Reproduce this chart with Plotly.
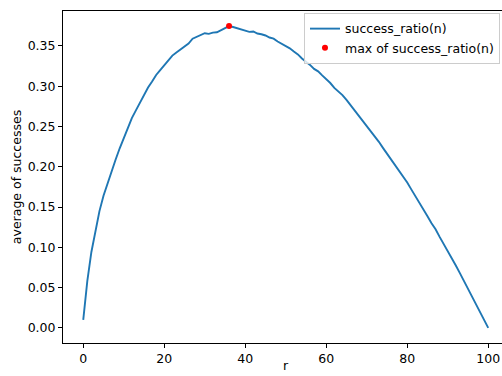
import numpy as np
import plotly.graph_objects as go

r_values = list(range(0, 101))
success_ratio = [
    0.0100, 0.0580, 0.0940, 0.1220, 0.1450, 0.1640, 0.1800, 0.1950, 0.2090, 0.2230,
    0.2360, 0.2490, 0.2605, 0.2700, 0.2800, 0.2895, 0.2985, 0.3060, 0.3140, 0.3200,
    0.3265, 0.3325, 0.3380, 0.3420, 0.3460, 0.3500, 0.3530, 0.3590, 0.3615, 0.3630,
    0.3658, 0.3650, 0.3665, 0.3670, 0.3695, 0.3712, 0.3747, 0.3735, 0.3720, 0.3700,
    0.3690, 0.3675, 0.3680, 0.3655, 0.3645, 0.3630, 0.3605, 0.3590, 0.3555, 0.3530,
    0.3500, 0.3470, 0.3430, 0.3395, 0.3345, 0.3310, 0.3265, 0.3215, 0.3185, 0.3135,
    0.3090, 0.3040, 0.2980, 0.2935, 0.2890, 0.2830, 0.2765, 0.2700, 0.2630, 0.2575,
    0.2505, 0.2445, 0.2385, 0.2310, 0.2235, 0.2165, 0.2095, 0.2025, 0.1950, 0.1880,
    0.1805, 0.1720, 0.1640, 0.1555, 0.1475, 0.1385, 0.1300, 0.1225, 0.1130, 0.1045,
    0.0955, 0.0870, 0.0775, 0.0680, 0.0585, 0.0490, 0.0395, 0.0300, 0.0200, 0.0100,
    0.0000,
]
x_ticks = [0, 20, 40, 60, 80, 100]
y_ticks = [0.00, 0.05, 0.10, 0.15, 0.20, 0.25, 0.30, 0.35]
y_tick_labels = [f"{v:.2f}" for v in y_ticks]

imax = int(np.argmax(success_ratio))

font = dict(family="DejaVu Sans", size=12.5, color="black")

fig = go.Figure()
fig.add_trace(go.Scatter(
    x=r_values, y=success_ratio, mode="lines",
    line=dict(color="#1f77b4", width=1.9),
    name="success_ratio(n)",
))
fig.add_trace(go.Scatter(
    x=[r_values[imax]], y=[success_ratio[imax]], mode="markers",
    marker=dict(color="red", size=6),
    name="max of success_ratio(n)",
))

fig.update_layout(
    width=502, height=376,
    margin=dict(l=63, r=0, t=11, b=33),
    paper_bgcolor="white", plot_bgcolor="white",
    font=font,
    showlegend=True,
    legend=dict(
        x=0.9954, y=0.994, xanchor="right", yanchor="top",
        bgcolor="rgba(255,255,255,0.8)", bordercolor="#cccccc", borderwidth=1,
        font=font, tracegroupgap=0,
    ),
    annotations=[dict(
        text="r", xref="x", yref="paper", x=50, y=-0.0975,
        xanchor="center", yanchor="bottom", showarrow=False, font=font,
    )],
)
fig.update_xaxes(
    range=[-5, 103.4], tickvals=x_ticks, showgrid=False, zeroline=False,
    showline=True, linecolor="black", linewidth=1, mirror=True,
    ticks="outside", ticklen=4, tickcolor="black", tickwidth=1,
    tickfont=font,
    automargin=False,
)
fig.update_yaxes(
    range=[-0.0187, 0.3934], tickvals=y_ticks, ticktext=y_tick_labels,
    showgrid=False, zeroline=False,
    showline=True, linecolor="black", linewidth=1, mirror=False,
    ticks="outside", ticklen=4, tickcolor="black", tickwidth=1,
    tickfont=font,
    title=dict(text="average of successes", font=font, standoff=3),
    automargin=False,
)

fig.write_html("out.html")
